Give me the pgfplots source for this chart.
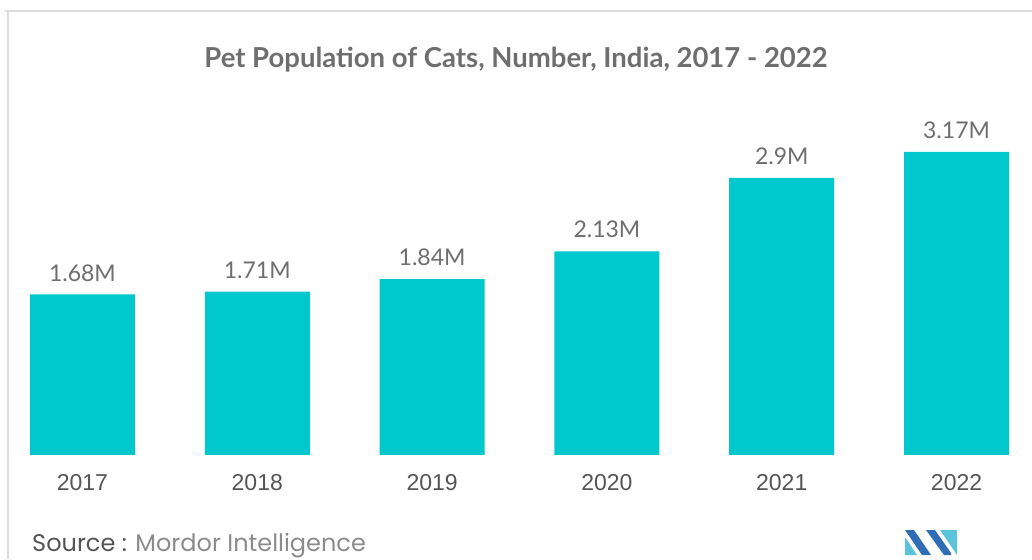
\documentclass[border=0pt]{standalone}
\usepackage{pgfplots}
\pgfplotsset{compat=1.18}
\usepackage{fontspec}
\setmainfont{Lato}
\newfontfamily\tickfont{Liberation Sans}
\newfontfamily\srcfont{Poppins}
\definecolor{barc}{HTML}{00C8CC}
\definecolor{txt}{HTML}{6E6E6E}
\definecolor{ticktxt}{HTML}{555555}
\definecolor{framec}{HTML}{DCDCDC}
\definecolor{mblue}{HTML}{2F6EB5}
\definecolor{lblue}{HTML}{5BC3DA}
\begin{document}
\begin{tikzpicture}[x=1pt,y=1pt]
\path[use as bounding box] (0,0) rectangle (1032,559);
\draw[framec, line width=2pt] (5,548) -- (1032,548);
\draw[framec, line width=2pt] (8,548) -- (8,0);
\node[txt, font=\fontsize{27.5}{32}\selectfont\bfseries] at (516,499) {Pet Population of Cats, Number, India, 2017 - 2022};
\begin{axis}[
  at={(30pt,104pt)}, anchor=south west,
  scale only axis, width=979pt, height=334.6pt,
  xmin=-0.3, xmax=5.3, ymin=0, ymax=3.5,
  axis line style={draw=none}, tick style={draw=none},
  ytick=\empty,
  xtick=data, xticklabels={2017,2018,2019,2020,2021,2022},
  xticklabel style={font=\tickfont\fontsize{23}{26}\selectfont, text=ticktxt, inner sep=0pt, yshift=-15pt},
  ybar, bar width=105pt,
  clip=false,
  point meta=explicit symbolic,
  nodes near coords,
  every node near coord/.append style={font=\fontsize{23}{26}\selectfont, text=txt, inner sep=0pt, anchor=south, yshift=13pt},
]
\addplot[fill=barc, draw=none] coordinates {
 (0,1.68) [1.68M]
 (1,1.71) [1.71M]
 (2,1.84) [1.84M]
 (3,2.13) [2.13M]
 (4,2.90) [2.9M]
 (5,3.17) [3.17M]
};
\end{axis}
\node[anchor=west, inner sep=0pt, font=\srcfont\fontsize{24}{28}\selectfont] at (32,13) {\textcolor{ticktxt}{Source :} \textcolor{txt!80}{Mordor Intelligence}};
\fill[mblue] (905,29) -- (914,29) -- (931,4) -- (922,4) -- cycle;
\fill[lblue] (905,4) -- (905,22) -- (917,4) -- cycle;
\fill[mblue] (926,29) -- (935,29) -- (951,6) -- (951,4) -- (944,4) -- cycle;
\fill[lblue] (940,29) -- (957,29) -- (957,4) -- cycle;
\end{tikzpicture}
\end{document}
